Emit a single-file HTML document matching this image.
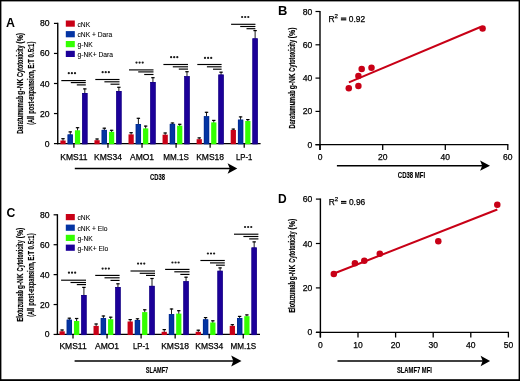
<!DOCTYPE html>
<html><head><meta charset="utf-8"><style>
html,body{margin:0;padding:0;background:#fff;}
svg{display:block;will-change:transform;}
text{font-family:"Liberation Sans",sans-serif;}
</style></head><body>
<svg width="520" height="381" viewBox="0 0 520 381" font-family="Liberation Sans">
<rect x="0" y="0" width="520" height="381" fill="#fff"/>
<line x1="57.75" y1="22.80" x2="57.75" y2="144.20" stroke="#000" stroke-width="1.4"/>
<line x1="53.95" y1="143.60" x2="57.75" y2="143.60" stroke="#000" stroke-width="1.2"/>
<text x="49.60" y="146.60" font-size="8.6" text-anchor="end" stroke="#000" stroke-width="0.25" >0</text>
<line x1="53.95" y1="113.55" x2="57.75" y2="113.55" stroke="#000" stroke-width="1.2"/>
<text x="49.60" y="116.55" font-size="8.6" text-anchor="end" stroke="#000" stroke-width="0.25" >20</text>
<line x1="53.95" y1="83.50" x2="57.75" y2="83.50" stroke="#000" stroke-width="1.2"/>
<text x="49.60" y="86.50" font-size="8.6" text-anchor="end" stroke="#000" stroke-width="0.25" >40</text>
<line x1="53.95" y1="53.45" x2="57.75" y2="53.45" stroke="#000" stroke-width="1.2"/>
<text x="49.60" y="56.45" font-size="8.6" text-anchor="end" stroke="#000" stroke-width="0.25" >60</text>
<line x1="53.95" y1="23.40" x2="57.75" y2="23.40" stroke="#000" stroke-width="1.2"/>
<text x="49.60" y="26.40" font-size="8.6" text-anchor="end" stroke="#000" stroke-width="0.25" >80</text>
<line x1="57.05" y1="143.60" x2="260.60" y2="143.60" stroke="#000" stroke-width="1.25"/>
<line x1="73.90" y1="143.60" x2="73.90" y2="147.70" stroke="#000" stroke-width="1.25"/>
<text x="73.90" y="159.70" font-size="8.5" text-anchor="middle" stroke="#000" stroke-width="0.25" >KMS11</text>
<line x1="63.00" y1="138.30" x2="63.00" y2="141.00" stroke="#000" stroke-width="0.9"/>
<line x1="61.30" y1="138.70" x2="64.70" y2="138.70" stroke="#000" stroke-width="1.2"/>
<rect x="60.38" y="140.50" width="5.25" height="3.70" fill="#c80016"/>
<line x1="70.27" y1="131.50" x2="70.27" y2="135.00" stroke="#000" stroke-width="0.9"/>
<line x1="68.56" y1="131.90" x2="71.97" y2="131.90" stroke="#000" stroke-width="1.2"/>
<rect x="67.64" y="134.50" width="5.25" height="9.70" fill="#0434a3"/>
<rect x="67.94" y="134.80" width="4.65" height="9.10" fill="none" stroke="#00288c" stroke-width="0.6"/>
<line x1="77.54" y1="127.30" x2="77.54" y2="130.80" stroke="#000" stroke-width="0.9"/>
<line x1="75.84" y1="127.70" x2="79.24" y2="127.70" stroke="#000" stroke-width="1.2"/>
<rect x="74.92" y="130.30" width="5.25" height="13.90" fill="#33ff00"/>
<line x1="84.81" y1="88.50" x2="84.81" y2="93.50" stroke="#000" stroke-width="0.9"/>
<line x1="83.11" y1="88.90" x2="86.51" y2="88.90" stroke="#000" stroke-width="1.2"/>
<rect x="82.19" y="93.00" width="5.25" height="51.20" fill="#1c0099"/>
<rect x="82.48" y="93.30" width="4.65" height="50.60" fill="none" stroke="#12007e" stroke-width="0.6"/>
<line x1="61.30" y1="80.60" x2="85.80" y2="80.60" stroke="#000" stroke-width="1.15"/>
<line x1="70.80" y1="82.60" x2="85.80" y2="82.60" stroke="#000" stroke-width="1.15"/>
<line x1="76.80" y1="84.90" x2="85.80" y2="84.90" stroke="#000" stroke-width="1.15"/>
<circle cx="68.80" cy="73.20" r="1.12" fill="#1a1a1a"/>
<circle cx="71.90" cy="73.20" r="1.12" fill="#1a1a1a"/>
<circle cx="75.00" cy="73.20" r="1.12" fill="#1a1a1a"/>
<line x1="107.96" y1="143.60" x2="107.96" y2="147.70" stroke="#000" stroke-width="1.25"/>
<text x="107.96" y="159.70" font-size="8.5" text-anchor="middle" stroke="#000" stroke-width="0.25" >KMS34</text>
<line x1="97.06" y1="138.60" x2="97.06" y2="140.70" stroke="#000" stroke-width="0.9"/>
<line x1="95.36" y1="139.00" x2="98.76" y2="139.00" stroke="#000" stroke-width="1.2"/>
<rect x="94.44" y="140.20" width="5.25" height="4.00" fill="#c80016"/>
<line x1="104.33" y1="127.80" x2="104.33" y2="130.40" stroke="#000" stroke-width="0.9"/>
<line x1="102.62" y1="128.20" x2="106.03" y2="128.20" stroke="#000" stroke-width="1.2"/>
<rect x="101.70" y="129.90" width="5.25" height="14.30" fill="#0434a3"/>
<rect x="102.00" y="130.20" width="4.65" height="13.70" fill="none" stroke="#00288c" stroke-width="0.6"/>
<line x1="111.60" y1="129.90" x2="111.60" y2="132.30" stroke="#000" stroke-width="0.9"/>
<line x1="109.90" y1="130.30" x2="113.30" y2="130.30" stroke="#000" stroke-width="1.2"/>
<rect x="108.98" y="131.80" width="5.25" height="12.40" fill="#33ff00"/>
<line x1="118.87" y1="86.90" x2="118.87" y2="91.50" stroke="#000" stroke-width="0.9"/>
<line x1="117.17" y1="87.30" x2="120.57" y2="87.30" stroke="#000" stroke-width="1.2"/>
<rect x="116.25" y="91.00" width="5.25" height="53.20" fill="#1c0099"/>
<rect x="116.55" y="91.30" width="4.65" height="52.60" fill="none" stroke="#12007e" stroke-width="0.6"/>
<line x1="95.30" y1="79.50" x2="119.50" y2="79.50" stroke="#000" stroke-width="1.15"/>
<line x1="104.40" y1="81.80" x2="119.50" y2="81.80" stroke="#000" stroke-width="1.15"/>
<line x1="110.50" y1="84.20" x2="119.50" y2="84.20" stroke="#000" stroke-width="1.15"/>
<circle cx="102.65" cy="72.20" r="1.12" fill="#1a1a1a"/>
<circle cx="105.75" cy="72.20" r="1.12" fill="#1a1a1a"/>
<circle cx="108.85" cy="72.20" r="1.12" fill="#1a1a1a"/>
<line x1="142.02" y1="143.60" x2="142.02" y2="147.70" stroke="#000" stroke-width="1.25"/>
<text x="142.02" y="159.70" font-size="8.5" text-anchor="middle" stroke="#000" stroke-width="0.25" >AMO1</text>
<line x1="131.12" y1="132.30" x2="131.12" y2="134.90" stroke="#000" stroke-width="0.9"/>
<line x1="129.42" y1="132.70" x2="132.81" y2="132.70" stroke="#000" stroke-width="1.2"/>
<rect x="128.50" y="134.40" width="5.25" height="9.80" fill="#c80016"/>
<line x1="138.39" y1="117.90" x2="138.39" y2="124.50" stroke="#000" stroke-width="0.9"/>
<line x1="136.69" y1="118.30" x2="140.09" y2="118.30" stroke="#000" stroke-width="1.2"/>
<rect x="135.77" y="124.00" width="5.25" height="20.20" fill="#0434a3"/>
<rect x="136.07" y="124.30" width="4.65" height="19.60" fill="none" stroke="#00288c" stroke-width="0.6"/>
<line x1="145.66" y1="125.70" x2="145.66" y2="128.90" stroke="#000" stroke-width="0.9"/>
<line x1="143.96" y1="126.10" x2="147.35" y2="126.10" stroke="#000" stroke-width="1.2"/>
<rect x="143.03" y="128.40" width="5.25" height="15.80" fill="#33ff00"/>
<line x1="152.93" y1="77.30" x2="152.93" y2="82.50" stroke="#000" stroke-width="0.9"/>
<line x1="151.23" y1="77.70" x2="154.62" y2="77.70" stroke="#000" stroke-width="1.2"/>
<rect x="150.31" y="82.00" width="5.25" height="62.20" fill="#1c0099"/>
<rect x="150.61" y="82.30" width="4.65" height="61.60" fill="none" stroke="#12007e" stroke-width="0.6"/>
<line x1="129.00" y1="69.90" x2="153.50" y2="69.90" stroke="#000" stroke-width="1.15"/>
<line x1="138.20" y1="71.90" x2="153.50" y2="71.90" stroke="#000" stroke-width="1.15"/>
<line x1="144.20" y1="74.50" x2="153.50" y2="74.50" stroke="#000" stroke-width="1.15"/>
<circle cx="136.50" cy="62.60" r="1.12" fill="#1a1a1a"/>
<circle cx="139.60" cy="62.60" r="1.12" fill="#1a1a1a"/>
<circle cx="142.70" cy="62.60" r="1.12" fill="#1a1a1a"/>
<line x1="176.08" y1="143.60" x2="176.08" y2="147.70" stroke="#000" stroke-width="1.25"/>
<text x="176.08" y="159.70" font-size="8.5" text-anchor="middle" stroke="#000" stroke-width="0.25" textLength="25.6" lengthAdjust="spacingAndGlyphs" >MM.1S</text>
<line x1="165.18" y1="132.60" x2="165.18" y2="135.20" stroke="#000" stroke-width="0.9"/>
<line x1="163.48" y1="133.00" x2="166.88" y2="133.00" stroke="#000" stroke-width="1.2"/>
<rect x="162.56" y="134.70" width="5.25" height="9.50" fill="#c80016"/>
<line x1="172.45" y1="122.60" x2="172.45" y2="124.40" stroke="#000" stroke-width="0.9"/>
<line x1="170.75" y1="123.00" x2="174.15" y2="123.00" stroke="#000" stroke-width="1.2"/>
<rect x="169.83" y="123.90" width="5.25" height="20.30" fill="#0434a3"/>
<rect x="170.13" y="124.20" width="4.65" height="19.70" fill="none" stroke="#00288c" stroke-width="0.6"/>
<line x1="179.72" y1="123.90" x2="179.72" y2="126.20" stroke="#000" stroke-width="0.9"/>
<line x1="178.02" y1="124.30" x2="181.41" y2="124.30" stroke="#000" stroke-width="1.2"/>
<rect x="177.09" y="125.70" width="5.25" height="18.50" fill="#33ff00"/>
<line x1="186.99" y1="71.30" x2="186.99" y2="76.70" stroke="#000" stroke-width="0.9"/>
<line x1="185.29" y1="71.70" x2="188.69" y2="71.70" stroke="#000" stroke-width="1.2"/>
<rect x="184.37" y="76.20" width="5.25" height="68.00" fill="#1c0099"/>
<rect x="184.67" y="76.50" width="4.65" height="67.40" fill="none" stroke="#12007e" stroke-width="0.6"/>
<line x1="163.40" y1="64.50" x2="188.00" y2="64.50" stroke="#000" stroke-width="1.15"/>
<line x1="172.80" y1="66.80" x2="188.00" y2="66.80" stroke="#000" stroke-width="1.15"/>
<line x1="178.80" y1="69.10" x2="188.00" y2="69.10" stroke="#000" stroke-width="1.15"/>
<circle cx="171.10" cy="57.20" r="1.12" fill="#1a1a1a"/>
<circle cx="174.20" cy="57.20" r="1.12" fill="#1a1a1a"/>
<circle cx="177.30" cy="57.20" r="1.12" fill="#1a1a1a"/>
<line x1="210.14" y1="143.60" x2="210.14" y2="147.70" stroke="#000" stroke-width="1.25"/>
<text x="210.14" y="159.70" font-size="8.5" text-anchor="middle" stroke="#000" stroke-width="0.25" >KMS18</text>
<line x1="199.24" y1="137.50" x2="199.24" y2="139.70" stroke="#000" stroke-width="0.9"/>
<line x1="197.54" y1="137.90" x2="200.94" y2="137.90" stroke="#000" stroke-width="1.2"/>
<rect x="196.62" y="139.20" width="5.25" height="5.00" fill="#c80016"/>
<line x1="206.51" y1="111.90" x2="206.51" y2="116.80" stroke="#000" stroke-width="0.9"/>
<line x1="204.81" y1="112.30" x2="208.21" y2="112.30" stroke="#000" stroke-width="1.2"/>
<rect x="203.89" y="116.30" width="5.25" height="27.90" fill="#0434a3"/>
<rect x="204.19" y="116.60" width="4.65" height="27.30" fill="none" stroke="#00288c" stroke-width="0.6"/>
<line x1="213.78" y1="120.00" x2="213.78" y2="122.90" stroke="#000" stroke-width="0.9"/>
<line x1="212.08" y1="120.40" x2="215.47" y2="120.40" stroke="#000" stroke-width="1.2"/>
<rect x="211.16" y="122.40" width="5.25" height="21.80" fill="#33ff00"/>
<line x1="221.05" y1="71.80" x2="221.05" y2="75.10" stroke="#000" stroke-width="0.9"/>
<line x1="219.35" y1="72.20" x2="222.75" y2="72.20" stroke="#000" stroke-width="1.2"/>
<rect x="218.43" y="74.60" width="5.25" height="69.60" fill="#1c0099"/>
<rect x="218.73" y="74.90" width="4.65" height="69.00" fill="none" stroke="#12007e" stroke-width="0.6"/>
<line x1="197.30" y1="64.50" x2="221.60" y2="64.50" stroke="#000" stroke-width="1.15"/>
<line x1="206.90" y1="66.80" x2="221.60" y2="66.80" stroke="#000" stroke-width="1.15"/>
<line x1="213.00" y1="69.20" x2="221.60" y2="69.20" stroke="#000" stroke-width="1.15"/>
<circle cx="205.00" cy="57.90" r="1.12" fill="#1a1a1a"/>
<circle cx="208.10" cy="57.90" r="1.12" fill="#1a1a1a"/>
<circle cx="211.20" cy="57.90" r="1.12" fill="#1a1a1a"/>
<line x1="244.20" y1="143.60" x2="244.20" y2="147.70" stroke="#000" stroke-width="1.25"/>
<text x="244.20" y="159.70" font-size="8.5" text-anchor="middle" stroke="#000" stroke-width="0.25" textLength="16.4" lengthAdjust="spacingAndGlyphs" >LP-1</text>
<line x1="233.30" y1="128.70" x2="233.30" y2="130.50" stroke="#000" stroke-width="0.9"/>
<line x1="231.60" y1="129.10" x2="235.00" y2="129.10" stroke="#000" stroke-width="1.2"/>
<rect x="230.68" y="130.00" width="5.25" height="14.20" fill="#c80016"/>
<line x1="240.57" y1="116.50" x2="240.57" y2="120.20" stroke="#000" stroke-width="0.9"/>
<line x1="238.87" y1="116.90" x2="242.27" y2="116.90" stroke="#000" stroke-width="1.2"/>
<rect x="237.95" y="119.70" width="5.25" height="24.50" fill="#0434a3"/>
<rect x="238.25" y="120.00" width="4.65" height="23.90" fill="none" stroke="#00288c" stroke-width="0.6"/>
<line x1="247.84" y1="119.20" x2="247.84" y2="121.50" stroke="#000" stroke-width="0.9"/>
<line x1="246.14" y1="119.60" x2="249.53" y2="119.60" stroke="#000" stroke-width="1.2"/>
<rect x="245.22" y="121.00" width="5.25" height="23.20" fill="#33ff00"/>
<line x1="255.11" y1="30.20" x2="255.11" y2="38.90" stroke="#000" stroke-width="0.9"/>
<line x1="253.41" y1="30.60" x2="256.81" y2="30.60" stroke="#000" stroke-width="1.2"/>
<rect x="252.49" y="38.40" width="5.25" height="105.80" fill="#1c0099"/>
<rect x="252.79" y="38.70" width="4.65" height="105.20" fill="none" stroke="#12007e" stroke-width="0.6"/>
<line x1="231.10" y1="24.30" x2="255.40" y2="24.30" stroke="#000" stroke-width="1.15"/>
<line x1="240.20" y1="26.50" x2="255.40" y2="26.50" stroke="#000" stroke-width="1.15"/>
<line x1="246.50" y1="28.70" x2="255.40" y2="28.70" stroke="#000" stroke-width="1.15"/>
<circle cx="242.10" cy="17.00" r="1.12" fill="#1a1a1a"/>
<circle cx="245.20" cy="17.00" r="1.12" fill="#1a1a1a"/>
<circle cx="248.30" cy="17.00" r="1.12" fill="#1a1a1a"/>
<rect x="65.80" y="20.50" width="9.00" height="6.20" fill="#c80016"/>
<text x="77.50" y="26.80" font-size="6.7" text-anchor="start" stroke="#000" stroke-width="0.08" >cNK</text>
<rect x="65.80" y="31.10" width="9.00" height="6.20" fill="#0434a3"/>
<text x="77.50" y="37.40" font-size="6.7" text-anchor="start" stroke="#000" stroke-width="0.08" >cNK + Dara</text>
<rect x="65.80" y="41.00" width="9.00" height="6.20" fill="#33ff00"/>
<text x="77.50" y="47.30" font-size="6.7" text-anchor="start" stroke="#000" stroke-width="0.08" >g-NK</text>
<rect x="65.80" y="50.80" width="9.00" height="6.20" fill="#1c0099"/>
<text x="77.50" y="57.10" font-size="6.7" text-anchor="start" stroke="#000" stroke-width="0.08" >g-NK+ Dara</text>
<line x1="57.40" y1="214.20" x2="57.40" y2="335.05" stroke="#000" stroke-width="1.4"/>
<line x1="53.60" y1="334.45" x2="57.40" y2="334.45" stroke="#000" stroke-width="1.2"/>
<text x="49.60" y="337.45" font-size="8.6" text-anchor="end" stroke="#000" stroke-width="0.25" >0</text>
<line x1="53.60" y1="304.54" x2="57.40" y2="304.54" stroke="#000" stroke-width="1.2"/>
<text x="49.60" y="307.54" font-size="8.6" text-anchor="end" stroke="#000" stroke-width="0.25" >20</text>
<line x1="53.60" y1="274.62" x2="57.40" y2="274.62" stroke="#000" stroke-width="1.2"/>
<text x="49.60" y="277.62" font-size="8.6" text-anchor="end" stroke="#000" stroke-width="0.25" >40</text>
<line x1="53.60" y1="244.71" x2="57.40" y2="244.71" stroke="#000" stroke-width="1.2"/>
<text x="49.60" y="247.71" font-size="8.6" text-anchor="end" stroke="#000" stroke-width="0.25" >60</text>
<line x1="53.60" y1="214.80" x2="57.40" y2="214.80" stroke="#000" stroke-width="1.2"/>
<text x="49.60" y="217.80" font-size="8.6" text-anchor="end" stroke="#000" stroke-width="0.25" >80</text>
<line x1="56.70" y1="334.45" x2="260.00" y2="334.45" stroke="#000" stroke-width="1.25"/>
<line x1="73.00" y1="334.45" x2="73.00" y2="338.55" stroke="#000" stroke-width="1.25"/>
<text x="73.00" y="349.30" font-size="8.5" text-anchor="middle" stroke="#000" stroke-width="0.25" >KMS11</text>
<line x1="62.09" y1="329.60" x2="62.09" y2="331.80" stroke="#000" stroke-width="0.9"/>
<line x1="60.39" y1="330.00" x2="63.80" y2="330.00" stroke="#000" stroke-width="1.2"/>
<rect x="59.48" y="331.30" width="5.25" height="3.75" fill="#c80016"/>
<line x1="69.36" y1="317.80" x2="69.36" y2="320.20" stroke="#000" stroke-width="0.9"/>
<line x1="67.66" y1="318.20" x2="71.06" y2="318.20" stroke="#000" stroke-width="1.2"/>
<rect x="66.74" y="319.70" width="5.25" height="15.35" fill="#0434a3"/>
<rect x="67.04" y="320.00" width="4.65" height="14.75" fill="none" stroke="#00288c" stroke-width="0.6"/>
<line x1="76.64" y1="318.10" x2="76.64" y2="321.50" stroke="#000" stroke-width="0.9"/>
<line x1="74.94" y1="318.50" x2="78.34" y2="318.50" stroke="#000" stroke-width="1.2"/>
<rect x="74.02" y="321.00" width="5.25" height="14.05" fill="#33ff00"/>
<line x1="83.91" y1="287.00" x2="83.91" y2="295.50" stroke="#000" stroke-width="0.9"/>
<line x1="82.20" y1="287.40" x2="85.61" y2="287.40" stroke="#000" stroke-width="1.2"/>
<rect x="81.28" y="295.00" width="5.25" height="40.05" fill="#1c0099"/>
<rect x="81.58" y="295.30" width="4.65" height="39.45" fill="none" stroke="#12007e" stroke-width="0.6"/>
<line x1="61.10" y1="280.20" x2="86.00" y2="280.20" stroke="#000" stroke-width="1.15"/>
<line x1="70.50" y1="282.50" x2="86.00" y2="282.50" stroke="#000" stroke-width="1.15"/>
<line x1="76.80" y1="284.60" x2="86.00" y2="284.60" stroke="#000" stroke-width="1.15"/>
<circle cx="68.95" cy="272.70" r="1.12" fill="#1a1a1a"/>
<circle cx="72.05" cy="272.70" r="1.12" fill="#1a1a1a"/>
<circle cx="75.15" cy="272.70" r="1.12" fill="#1a1a1a"/>
<line x1="107.05" y1="334.45" x2="107.05" y2="338.55" stroke="#000" stroke-width="1.25"/>
<text x="107.05" y="349.30" font-size="8.5" text-anchor="middle" stroke="#000" stroke-width="0.25" >AMO1</text>
<line x1="96.14" y1="323.60" x2="96.14" y2="326.40" stroke="#000" stroke-width="0.9"/>
<line x1="94.44" y1="324.00" x2="97.84" y2="324.00" stroke="#000" stroke-width="1.2"/>
<rect x="93.52" y="325.90" width="5.25" height="9.15" fill="#c80016"/>
<line x1="103.41" y1="315.60" x2="103.41" y2="318.50" stroke="#000" stroke-width="0.9"/>
<line x1="101.71" y1="316.00" x2="105.11" y2="316.00" stroke="#000" stroke-width="1.2"/>
<rect x="100.79" y="318.00" width="5.25" height="17.05" fill="#0434a3"/>
<rect x="101.09" y="318.30" width="4.65" height="16.45" fill="none" stroke="#00288c" stroke-width="0.6"/>
<line x1="110.69" y1="316.80" x2="110.69" y2="319.70" stroke="#000" stroke-width="0.9"/>
<line x1="108.98" y1="317.20" x2="112.39" y2="317.20" stroke="#000" stroke-width="1.2"/>
<rect x="108.06" y="319.20" width="5.25" height="15.85" fill="#33ff00"/>
<line x1="117.95" y1="283.40" x2="117.95" y2="287.50" stroke="#000" stroke-width="0.9"/>
<line x1="116.25" y1="283.80" x2="119.66" y2="283.80" stroke="#000" stroke-width="1.2"/>
<rect x="115.33" y="287.00" width="5.25" height="48.05" fill="#1c0099"/>
<rect x="115.63" y="287.30" width="4.65" height="47.45" fill="none" stroke="#12007e" stroke-width="0.6"/>
<line x1="95.20" y1="275.40" x2="119.60" y2="275.40" stroke="#000" stroke-width="1.15"/>
<line x1="104.50" y1="277.80" x2="119.60" y2="277.80" stroke="#000" stroke-width="1.15"/>
<line x1="110.50" y1="280.40" x2="119.60" y2="280.40" stroke="#000" stroke-width="1.15"/>
<circle cx="102.65" cy="268.60" r="1.12" fill="#1a1a1a"/>
<circle cx="105.75" cy="268.60" r="1.12" fill="#1a1a1a"/>
<circle cx="108.85" cy="268.60" r="1.12" fill="#1a1a1a"/>
<line x1="141.10" y1="334.45" x2="141.10" y2="338.55" stroke="#000" stroke-width="1.25"/>
<text x="141.10" y="349.30" font-size="8.5" text-anchor="middle" stroke="#000" stroke-width="0.25" textLength="16.4" lengthAdjust="spacingAndGlyphs" >LP-1</text>
<line x1="130.19" y1="319.20" x2="130.19" y2="322.00" stroke="#000" stroke-width="0.9"/>
<line x1="128.50" y1="319.60" x2="131.89" y2="319.60" stroke="#000" stroke-width="1.2"/>
<rect x="127.57" y="321.50" width="5.25" height="13.55" fill="#c80016"/>
<line x1="137.47" y1="318.40" x2="137.47" y2="320.50" stroke="#000" stroke-width="0.9"/>
<line x1="135.77" y1="318.80" x2="139.16" y2="318.80" stroke="#000" stroke-width="1.2"/>
<rect x="134.84" y="320.00" width="5.25" height="15.05" fill="#0434a3"/>
<rect x="135.15" y="320.30" width="4.65" height="14.45" fill="none" stroke="#00288c" stroke-width="0.6"/>
<line x1="144.73" y1="309.40" x2="144.73" y2="312.60" stroke="#000" stroke-width="0.9"/>
<line x1="143.03" y1="309.80" x2="146.43" y2="309.80" stroke="#000" stroke-width="1.2"/>
<rect x="142.11" y="312.10" width="5.25" height="22.95" fill="#33ff00"/>
<line x1="152.00" y1="278.10" x2="152.00" y2="286.40" stroke="#000" stroke-width="0.9"/>
<line x1="150.31" y1="278.50" x2="153.70" y2="278.50" stroke="#000" stroke-width="1.2"/>
<rect x="149.38" y="285.90" width="5.25" height="49.15" fill="#1c0099"/>
<rect x="149.69" y="286.20" width="4.65" height="48.55" fill="none" stroke="#12007e" stroke-width="0.6"/>
<line x1="130.50" y1="271.00" x2="155.00" y2="271.00" stroke="#000" stroke-width="1.15"/>
<line x1="139.70" y1="273.30" x2="155.00" y2="273.30" stroke="#000" stroke-width="1.15"/>
<line x1="146.00" y1="275.40" x2="155.00" y2="275.40" stroke="#000" stroke-width="1.15"/>
<circle cx="138.05" cy="263.60" r="1.12" fill="#1a1a1a"/>
<circle cx="141.15" cy="263.60" r="1.12" fill="#1a1a1a"/>
<circle cx="144.25" cy="263.60" r="1.12" fill="#1a1a1a"/>
<line x1="175.15" y1="334.45" x2="175.15" y2="338.55" stroke="#000" stroke-width="1.25"/>
<text x="175.15" y="349.30" font-size="8.5" text-anchor="middle" stroke="#000" stroke-width="0.25" >KMS18</text>
<line x1="164.24" y1="329.20" x2="164.24" y2="332.30" stroke="#000" stroke-width="0.9"/>
<line x1="162.54" y1="329.60" x2="165.94" y2="329.60" stroke="#000" stroke-width="1.2"/>
<rect x="161.62" y="331.80" width="5.25" height="3.25" fill="#c80016"/>
<line x1="171.51" y1="308.60" x2="171.51" y2="314.60" stroke="#000" stroke-width="0.9"/>
<line x1="169.81" y1="309.00" x2="173.21" y2="309.00" stroke="#000" stroke-width="1.2"/>
<rect x="168.89" y="314.10" width="5.25" height="20.95" fill="#0434a3"/>
<rect x="169.19" y="314.40" width="4.65" height="20.35" fill="none" stroke="#00288c" stroke-width="0.6"/>
<line x1="178.78" y1="310.30" x2="178.78" y2="314.10" stroke="#000" stroke-width="0.9"/>
<line x1="177.08" y1="310.70" x2="180.48" y2="310.70" stroke="#000" stroke-width="1.2"/>
<rect x="176.16" y="313.60" width="5.25" height="21.45" fill="#33ff00"/>
<line x1="186.05" y1="276.80" x2="186.05" y2="281.70" stroke="#000" stroke-width="0.9"/>
<line x1="184.35" y1="277.20" x2="187.75" y2="277.20" stroke="#000" stroke-width="1.2"/>
<rect x="183.43" y="281.20" width="5.25" height="53.85" fill="#1c0099"/>
<rect x="183.73" y="281.50" width="4.65" height="53.25" fill="none" stroke="#12007e" stroke-width="0.6"/>
<line x1="165.10" y1="269.40" x2="189.50" y2="269.40" stroke="#000" stroke-width="1.15"/>
<line x1="174.30" y1="271.80" x2="189.50" y2="271.80" stroke="#000" stroke-width="1.15"/>
<line x1="180.30" y1="274.40" x2="189.50" y2="274.40" stroke="#000" stroke-width="1.15"/>
<circle cx="172.45" cy="262.50" r="1.12" fill="#1a1a1a"/>
<circle cx="175.55" cy="262.50" r="1.12" fill="#1a1a1a"/>
<circle cx="178.65" cy="262.50" r="1.12" fill="#1a1a1a"/>
<line x1="209.20" y1="334.45" x2="209.20" y2="338.55" stroke="#000" stroke-width="1.25"/>
<text x="209.20" y="349.30" font-size="8.5" text-anchor="middle" stroke="#000" stroke-width="0.25" >KMS34</text>
<line x1="198.29" y1="329.80" x2="198.29" y2="332.30" stroke="#000" stroke-width="0.9"/>
<line x1="196.59" y1="330.20" x2="199.99" y2="330.20" stroke="#000" stroke-width="1.2"/>
<rect x="195.67" y="331.80" width="5.25" height="3.25" fill="#c80016"/>
<line x1="205.56" y1="317.20" x2="205.56" y2="319.90" stroke="#000" stroke-width="0.9"/>
<line x1="203.87" y1="317.60" x2="207.26" y2="317.60" stroke="#000" stroke-width="1.2"/>
<rect x="202.94" y="319.40" width="5.25" height="15.65" fill="#0434a3"/>
<rect x="203.25" y="319.70" width="4.65" height="15.05" fill="none" stroke="#00288c" stroke-width="0.6"/>
<line x1="212.83" y1="320.40" x2="212.83" y2="323.00" stroke="#000" stroke-width="0.9"/>
<line x1="211.13" y1="320.80" x2="214.53" y2="320.80" stroke="#000" stroke-width="1.2"/>
<rect x="210.21" y="322.50" width="5.25" height="12.55" fill="#33ff00"/>
<line x1="220.10" y1="267.50" x2="220.10" y2="271.30" stroke="#000" stroke-width="0.9"/>
<line x1="218.41" y1="267.90" x2="221.80" y2="267.90" stroke="#000" stroke-width="1.2"/>
<rect x="217.48" y="270.80" width="5.25" height="64.25" fill="#1c0099"/>
<rect x="217.78" y="271.10" width="4.65" height="63.65" fill="none" stroke="#12007e" stroke-width="0.6"/>
<line x1="200.40" y1="260.50" x2="224.80" y2="260.50" stroke="#000" stroke-width="1.15"/>
<line x1="210.00" y1="262.90" x2="224.80" y2="262.90" stroke="#000" stroke-width="1.15"/>
<line x1="216.00" y1="265.20" x2="224.80" y2="265.20" stroke="#000" stroke-width="1.15"/>
<circle cx="207.90" cy="253.50" r="1.12" fill="#1a1a1a"/>
<circle cx="211.00" cy="253.50" r="1.12" fill="#1a1a1a"/>
<circle cx="214.10" cy="253.50" r="1.12" fill="#1a1a1a"/>
<line x1="243.25" y1="334.45" x2="243.25" y2="338.55" stroke="#000" stroke-width="1.25"/>
<text x="243.25" y="349.30" font-size="8.5" text-anchor="middle" stroke="#000" stroke-width="0.25" textLength="25.6" lengthAdjust="spacingAndGlyphs" >MM.1S</text>
<line x1="232.34" y1="324.30" x2="232.34" y2="326.40" stroke="#000" stroke-width="0.9"/>
<line x1="230.65" y1="324.70" x2="234.04" y2="324.70" stroke="#000" stroke-width="1.2"/>
<rect x="229.72" y="325.90" width="5.25" height="9.15" fill="#c80016"/>
<line x1="239.62" y1="316.00" x2="239.62" y2="318.50" stroke="#000" stroke-width="0.9"/>
<line x1="237.92" y1="316.40" x2="241.31" y2="316.40" stroke="#000" stroke-width="1.2"/>
<rect x="237.00" y="318.00" width="5.25" height="17.05" fill="#0434a3"/>
<rect x="237.30" y="318.30" width="4.65" height="16.45" fill="none" stroke="#00288c" stroke-width="0.6"/>
<line x1="246.88" y1="314.50" x2="246.88" y2="316.70" stroke="#000" stroke-width="0.9"/>
<line x1="245.19" y1="314.90" x2="248.58" y2="314.90" stroke="#000" stroke-width="1.2"/>
<rect x="244.26" y="316.20" width="5.25" height="18.85" fill="#33ff00"/>
<line x1="254.16" y1="241.50" x2="254.16" y2="248.00" stroke="#000" stroke-width="0.9"/>
<line x1="252.46" y1="241.90" x2="255.85" y2="241.90" stroke="#000" stroke-width="1.2"/>
<rect x="251.53" y="247.50" width="5.25" height="87.55" fill="#1c0099"/>
<rect x="251.84" y="247.80" width="4.65" height="86.95" fill="none" stroke="#12007e" stroke-width="0.6"/>
<line x1="234.00" y1="234.20" x2="258.40" y2="234.20" stroke="#000" stroke-width="1.15"/>
<line x1="243.40" y1="236.50" x2="258.40" y2="236.50" stroke="#000" stroke-width="1.15"/>
<line x1="249.20" y1="238.90" x2="258.40" y2="238.90" stroke="#000" stroke-width="1.15"/>
<circle cx="245.05" cy="227.00" r="1.12" fill="#1a1a1a"/>
<circle cx="248.15" cy="227.00" r="1.12" fill="#1a1a1a"/>
<circle cx="251.25" cy="227.00" r="1.12" fill="#1a1a1a"/>
<rect x="65.80" y="214.00" width="9.00" height="6.20" fill="#c80016"/>
<text x="77.50" y="220.30" font-size="6.7" text-anchor="start" stroke="#000" stroke-width="0.08" >cNK</text>
<rect x="65.80" y="224.60" width="9.00" height="6.20" fill="#0434a3"/>
<text x="77.50" y="230.90" font-size="6.7" text-anchor="start" stroke="#000" stroke-width="0.08" >cNK + Elo</text>
<rect x="65.80" y="234.80" width="9.00" height="6.20" fill="#33ff00"/>
<text x="77.50" y="241.10" font-size="6.7" text-anchor="start" stroke="#000" stroke-width="0.08" >g-NK</text>
<rect x="65.80" y="244.60" width="9.00" height="6.20" fill="#1c0099"/>
<text x="77.50" y="250.90" font-size="6.7" text-anchor="start" stroke="#000" stroke-width="0.08" >g-NK+ Elo</text>
<line x1="74.80" y1="168.50" x2="230.30" y2="168.50" stroke="#000" stroke-width="1.5"/>
<path d="M237.3,168.5 L227.6,163.15 L229.8,168.5 L227.6,173.85 Z" fill="#000"/>
<text x="157.50" y="180.30" font-size="9.1" text-anchor="middle" font-weight="bold" stroke="#000" stroke-width="0.15" textLength="15" lengthAdjust="spacingAndGlyphs" >CD38</text>
<line x1="74.60" y1="361.10" x2="233.80" y2="361.10" stroke="#000" stroke-width="1.5"/>
<path d="M241.5,361.1 L231.2,355.6 L233.3,361.1 L231.2,366.6 Z" fill="#000"/>
<text x="157.00" y="372.70" font-size="9.1" text-anchor="middle" font-weight="bold" stroke="#000" stroke-width="0.15" textLength="22.4" lengthAdjust="spacingAndGlyphs" >SLAMF7</text>
<text transform="translate(295.4,32.85) rotate(-90)" x="0" y="0" font-size="9.0" text-anchor="middle" font-weight="bold" stroke="#000" stroke-width="0.18" textLength="10.7" lengthAdjust="spacingAndGlyphs">(%)</text>
<text transform="translate(295.4,55.85) rotate(-90)" x="0" y="0" font-size="9.0" text-anchor="middle" font-weight="bold" stroke="#000" stroke-width="0.18" textLength="31.7" lengthAdjust="spacingAndGlyphs">Cytotoxicity</text>
<text transform="translate(295.4,81.35) rotate(-90)" x="0" y="0" font-size="9.0" text-anchor="middle" font-weight="bold" stroke="#000" stroke-width="0.18" textLength="15.9" lengthAdjust="spacingAndGlyphs">g-NK</text>
<text transform="translate(295.4,109.3) rotate(-90)" x="0" y="0" font-size="9.0" text-anchor="middle" font-weight="bold" stroke="#000" stroke-width="0.18" textLength="38.2" lengthAdjust="spacingAndGlyphs">Daratumumab</text>
<text transform="translate(23.0,38.2) rotate(-90)" x="0" y="0" font-size="9.0" text-anchor="middle" font-weight="bold" stroke="#000" stroke-width="0.18" textLength="10.7" lengthAdjust="spacingAndGlyphs">(%)</text>
<text transform="translate(23.0,61.2) rotate(-90)" x="0" y="0" font-size="9.0" text-anchor="middle" font-weight="bold" stroke="#000" stroke-width="0.18" textLength="31.7" lengthAdjust="spacingAndGlyphs">Cytotoxicity</text>
<text transform="translate(23.0,86.7) rotate(-90)" x="0" y="0" font-size="9.0" text-anchor="middle" font-weight="bold" stroke="#000" stroke-width="0.18" textLength="15.9" lengthAdjust="spacingAndGlyphs">g-NK</text>
<text transform="translate(23.0,114.65) rotate(-90)" x="0" y="0" font-size="9.0" text-anchor="middle" font-weight="bold" stroke="#000" stroke-width="0.18" textLength="38.2" lengthAdjust="spacingAndGlyphs">Daratumumab</text>
<text transform="translate(295.4,224.15) rotate(-90)" x="0" y="0" font-size="9.0" text-anchor="middle" font-weight="bold" stroke="#000" stroke-width="0.18" textLength="10.7" lengthAdjust="spacingAndGlyphs">(%)</text>
<text transform="translate(295.4,247.1) rotate(-90)" x="0" y="0" font-size="9.0" text-anchor="middle" font-weight="bold" stroke="#000" stroke-width="0.18" textLength="31.2" lengthAdjust="spacingAndGlyphs">Cytotoxicity</text>
<text transform="translate(295.4,272.5) rotate(-90)" x="0" y="0" font-size="9.0" text-anchor="middle" font-weight="bold" stroke="#000" stroke-width="0.18" textLength="15.6" lengthAdjust="spacingAndGlyphs">g-NK</text>
<text transform="translate(295.4,296.9) rotate(-90)" x="0" y="0" font-size="9.0" text-anchor="middle" font-weight="bold" stroke="#000" stroke-width="0.18" textLength="31.4" lengthAdjust="spacingAndGlyphs">Elotuzumab</text>
<text transform="translate(22.8,232.95) rotate(-90)" x="0" y="0" font-size="9.0" text-anchor="middle" font-weight="bold" stroke="#000" stroke-width="0.18" textLength="10.7" lengthAdjust="spacingAndGlyphs">(%)</text>
<text transform="translate(22.8,255.9) rotate(-90)" x="0" y="0" font-size="9.0" text-anchor="middle" font-weight="bold" stroke="#000" stroke-width="0.18" textLength="31.2" lengthAdjust="spacingAndGlyphs">Cytotoxicity</text>
<text transform="translate(22.8,281.3) rotate(-90)" x="0" y="0" font-size="9.0" text-anchor="middle" font-weight="bold" stroke="#000" stroke-width="0.18" textLength="15.6" lengthAdjust="spacingAndGlyphs">g-NK</text>
<text transform="translate(22.8,305.7) rotate(-90)" x="0" y="0" font-size="9.0" text-anchor="middle" font-weight="bold" stroke="#000" stroke-width="0.18" textLength="31.4" lengthAdjust="spacingAndGlyphs">Elotuzumab</text>
<text transform="translate(34.2,120.4) rotate(-90)" x="0" y="0" font-size="9.0" text-anchor="middle" font-weight="bold" stroke="#000" stroke-width="0.18" textLength="8.8" lengthAdjust="spacingAndGlyphs">(All</text>
<text transform="translate(34.2,91.8) rotate(-90)" x="0" y="0" font-size="9.0" text-anchor="middle" font-weight="bold" stroke="#000" stroke-width="0.18" textLength="44.0" lengthAdjust="spacingAndGlyphs">post-expansion,</text>
<text transform="translate(34.2,63.85) rotate(-90)" x="0" y="0" font-size="9.0" text-anchor="middle" font-weight="bold" stroke="#000" stroke-width="0.18" textLength="9.3" lengthAdjust="spacingAndGlyphs">E:T</text>
<text transform="translate(34.2,49.45) rotate(-90)" x="0" y="0" font-size="9.0" text-anchor="middle" font-weight="bold" stroke="#000" stroke-width="0.18" textLength="16.1" lengthAdjust="spacingAndGlyphs">0.5:1)</text>
<text transform="translate(34.2,312.3) rotate(-90)" x="0" y="0" font-size="9.0" text-anchor="middle" font-weight="bold" stroke="#000" stroke-width="0.18" textLength="8.8" lengthAdjust="spacingAndGlyphs">(All</text>
<text transform="translate(34.2,283.7) rotate(-90)" x="0" y="0" font-size="9.0" text-anchor="middle" font-weight="bold" stroke="#000" stroke-width="0.18" textLength="44.0" lengthAdjust="spacingAndGlyphs">post-expansion,</text>
<text transform="translate(34.2,255.75) rotate(-90)" x="0" y="0" font-size="9.0" text-anchor="middle" font-weight="bold" stroke="#000" stroke-width="0.18" textLength="9.3" lengthAdjust="spacingAndGlyphs">E:T</text>
<text transform="translate(34.2,241.35) rotate(-90)" x="0" y="0" font-size="9.0" text-anchor="middle" font-weight="bold" stroke="#000" stroke-width="0.18" textLength="16.1" lengthAdjust="spacingAndGlyphs">0.5:1)</text>
<text x="6.00" y="26.90" font-size="12.4" text-anchor="start" font-weight="bold" >A</text>
<text x="6.50" y="217.10" font-size="12.2" text-anchor="start" font-weight="bold" >C</text>
<text x="277.90" y="14.90" font-size="12.0" text-anchor="start" font-weight="bold" transform="translate(277.9,0) scale(1.08,1) translate(-277.9,0)">B</text>
<text x="277.90" y="202.80" font-size="12.0" text-anchor="start" font-weight="bold" >D</text>
<line x1="320.00" y1="10.90" x2="320.00" y2="149.90" stroke="#000" stroke-width="1.4"/>
<line x1="315.50" y1="11.50" x2="320.00" y2="11.50" stroke="#000" stroke-width="1.2"/>
<text x="312.20" y="14.50" font-size="8.6" text-anchor="end" stroke="#000" stroke-width="0.25" >80</text>
<line x1="315.50" y1="44.80" x2="320.00" y2="44.80" stroke="#000" stroke-width="1.2"/>
<text x="312.20" y="47.80" font-size="8.6" text-anchor="end" stroke="#000" stroke-width="0.25" >60</text>
<line x1="315.50" y1="78.10" x2="320.00" y2="78.10" stroke="#000" stroke-width="1.2"/>
<text x="312.20" y="81.10" font-size="8.6" text-anchor="end" stroke="#000" stroke-width="0.25" >40</text>
<line x1="315.50" y1="111.40" x2="320.00" y2="111.40" stroke="#000" stroke-width="1.2"/>
<text x="312.20" y="114.40" font-size="8.6" text-anchor="end" stroke="#000" stroke-width="0.25" >20</text>
<line x1="315.50" y1="144.70" x2="320.00" y2="144.70" stroke="#000" stroke-width="1.2"/>
<text x="312.20" y="147.70" font-size="8.6" text-anchor="end" stroke="#000" stroke-width="0.25" >0</text>
<line x1="315.50" y1="144.70" x2="508.40" y2="144.70" stroke="#000" stroke-width="1.3"/>
<line x1="320.00" y1="144.70" x2="320.00" y2="149.90" stroke="#000" stroke-width="1.3"/>
<text x="320.00" y="159.90" font-size="8.5" text-anchor="middle" stroke="#000" stroke-width="0.25" >0</text>
<line x1="382.70" y1="144.70" x2="382.70" y2="149.90" stroke="#000" stroke-width="1.3"/>
<text x="382.70" y="159.90" font-size="8.5" text-anchor="middle" stroke="#000" stroke-width="0.25" >20</text>
<line x1="445.30" y1="144.70" x2="445.30" y2="149.90" stroke="#000" stroke-width="1.3"/>
<text x="445.30" y="159.90" font-size="8.5" text-anchor="middle" stroke="#000" stroke-width="0.25" >40</text>
<line x1="507.80" y1="144.70" x2="507.80" y2="149.90" stroke="#000" stroke-width="1.3"/>
<text x="507.80" y="159.90" font-size="8.5" text-anchor="middle" stroke="#000" stroke-width="0.25" >60</text>
<line x1="348.90" y1="82.30" x2="480.50" y2="27.00" stroke="#c80016" stroke-width="2.0"/>
<circle cx="348.8" cy="88.3" r="3.25" fill="#c80016"/>
<circle cx="358.4" cy="86.1" r="3.25" fill="#c80016"/>
<circle cx="358.4" cy="76" r="3.25" fill="#c80016"/>
<circle cx="361.7" cy="69" r="3.25" fill="#c80016"/>
<circle cx="371.5" cy="67.7" r="3.25" fill="#c80016"/>
<circle cx="482.6" cy="28.6" r="3.25" fill="#c80016"/>
<text x="328.60" y="21.60" font-size="8.4" text-anchor="start" stroke="#000" stroke-width="0.25" >R</text>
<text x="334.60" y="17.80" font-size="6.2" text-anchor="start" stroke="#000" stroke-width="0.25" >2</text>
<line x1="340.90" y1="18.10" x2="346.30" y2="18.10" stroke="#000" stroke-width="1.2"/>
<line x1="340.90" y1="19.80" x2="346.30" y2="19.80" stroke="#000" stroke-width="1.2"/>
<text x="348.80" y="21.60" font-size="8.4" text-anchor="start" stroke="#000" stroke-width="0.25" >0.92</text>
<line x1="320.40" y1="198.50" x2="320.40" y2="337.50" stroke="#000" stroke-width="1.4"/>
<line x1="315.90" y1="199.10" x2="320.40" y2="199.10" stroke="#000" stroke-width="1.2"/>
<text x="312.20" y="202.10" font-size="8.6" text-anchor="end" stroke="#000" stroke-width="0.25" >60</text>
<line x1="315.90" y1="243.50" x2="320.40" y2="243.50" stroke="#000" stroke-width="1.2"/>
<text x="312.20" y="246.50" font-size="8.6" text-anchor="end" stroke="#000" stroke-width="0.25" >40</text>
<line x1="315.90" y1="287.90" x2="320.40" y2="287.90" stroke="#000" stroke-width="1.2"/>
<text x="312.20" y="290.90" font-size="8.6" text-anchor="end" stroke="#000" stroke-width="0.25" >20</text>
<line x1="315.90" y1="332.30" x2="320.40" y2="332.30" stroke="#000" stroke-width="1.2"/>
<text x="312.20" y="335.30" font-size="8.6" text-anchor="end" stroke="#000" stroke-width="0.25" >0</text>
<line x1="315.90" y1="332.30" x2="509.00" y2="332.30" stroke="#000" stroke-width="1.3"/>
<line x1="320.40" y1="332.30" x2="320.40" y2="337.50" stroke="#000" stroke-width="1.3"/>
<text x="320.40" y="347.90" font-size="8.5" text-anchor="middle" stroke="#000" stroke-width="0.25" >0</text>
<line x1="358.00" y1="332.30" x2="358.00" y2="337.50" stroke="#000" stroke-width="1.3"/>
<text x="358.00" y="347.90" font-size="8.5" text-anchor="middle" stroke="#000" stroke-width="0.25" >10</text>
<line x1="395.60" y1="332.30" x2="395.60" y2="337.50" stroke="#000" stroke-width="1.3"/>
<text x="395.60" y="347.90" font-size="8.5" text-anchor="middle" stroke="#000" stroke-width="0.25" >20</text>
<line x1="433.20" y1="332.30" x2="433.20" y2="337.50" stroke="#000" stroke-width="1.3"/>
<text x="433.20" y="347.90" font-size="8.5" text-anchor="middle" stroke="#000" stroke-width="0.25" >30</text>
<line x1="470.80" y1="332.30" x2="470.80" y2="337.50" stroke="#000" stroke-width="1.3"/>
<text x="470.80" y="347.90" font-size="8.5" text-anchor="middle" stroke="#000" stroke-width="0.25" >40</text>
<line x1="508.40" y1="332.30" x2="508.40" y2="337.50" stroke="#000" stroke-width="1.3"/>
<text x="508.40" y="347.90" font-size="8.5" text-anchor="middle" stroke="#000" stroke-width="0.25" >50</text>
<line x1="334.00" y1="273.50" x2="497.30" y2="209.50" stroke="#c80016" stroke-width="2.0"/>
<circle cx="333.8" cy="274" r="3.25" fill="#c80016"/>
<circle cx="354.9" cy="263.2" r="3.25" fill="#c80016"/>
<circle cx="364.3" cy="260.8" r="3.25" fill="#c80016"/>
<circle cx="379.8" cy="253.8" r="3.25" fill="#c80016"/>
<circle cx="438.3" cy="241.2" r="3.25" fill="#c80016"/>
<circle cx="497.3" cy="204.8" r="3.25" fill="#c80016"/>
<text x="328.70" y="205.00" font-size="8.4" text-anchor="start" stroke="#000" stroke-width="0.25" >R</text>
<text x="334.70" y="201.20" font-size="6.2" text-anchor="start" stroke="#000" stroke-width="0.25" >2</text>
<line x1="341.00" y1="201.50" x2="346.40" y2="201.50" stroke="#000" stroke-width="1.2"/>
<line x1="341.00" y1="203.20" x2="346.40" y2="203.20" stroke="#000" stroke-width="1.2"/>
<text x="348.90" y="205.00" font-size="8.4" text-anchor="start" stroke="#000" stroke-width="0.25" >0.96</text>
<line x1="336.90" y1="165.70" x2="482.70" y2="165.70" stroke="#000" stroke-width="1.5"/>
<path d="M490,165.7 L480.1,160.6 L482.2,165.7 L480.1,170.79999999999998 Z" fill="#000"/>
<text x="411.50" y="177.90" font-size="9.1" text-anchor="middle" font-weight="bold" stroke="#000" stroke-width="0.15" textLength="27.3" lengthAdjust="spacingAndGlyphs" >CD38 MFI</text>
<line x1="337.50" y1="360.95" x2="483.20" y2="360.95" stroke="#000" stroke-width="1.5"/>
<path d="M490.1,360.95 L480.6,355.7 L482.7,360.95 L480.6,366.2 Z" fill="#000"/>
<text x="414.40" y="372.80" font-size="9.1" text-anchor="middle" font-weight="bold" stroke="#000" stroke-width="0.15" textLength="35" lengthAdjust="spacingAndGlyphs" >SLAMF7 MFI</text>
<rect x="0.00" y="0.00" width="520.00" height="1.40" fill="#000"/>
<rect x="0.00" y="0.00" width="1.40" height="381.00" fill="#000"/>
<rect x="518.60" y="0.00" width="1.40" height="381.00" fill="#000"/>
<rect x="0.00" y="379.20" width="520.00" height="1.80" fill="#000"/>
</svg>
</body></html>
